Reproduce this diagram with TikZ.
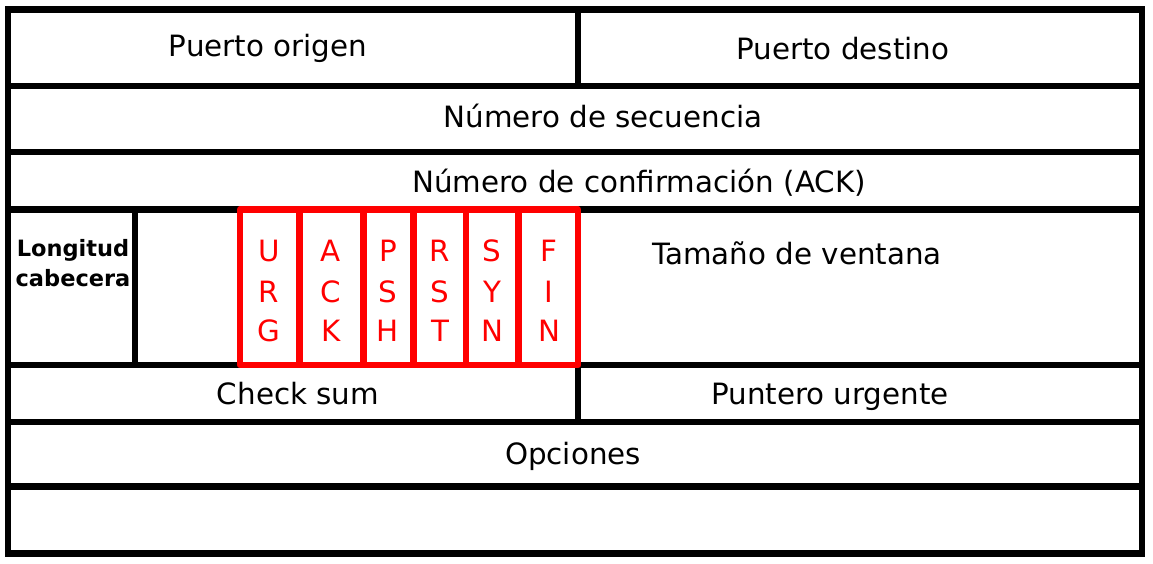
\documentclass[tikz,border=0pt]{standalone}
\usepackage{fontspec}
\setmainfont{DejaVu Sans}
\usetikzlibrary{positioning}
\definecolor{Ink}{HTML}{000000}
\definecolor{FlagRed}{HTML}{FF0000}
\tikzset{
 grid/.style={draw=Ink,line width=3.7pt},
 flagbox/.style={draw=FlagRed,line width=3.7pt,line join=round},
 field/.style={anchor=base,inner sep=0pt,font=\fontsize{16.7}{20}\selectfont},
 flag/.style={field,text=FlagRed},
 hdrlen/.style={align=center,inner sep=0pt,font=\bfseries\fontsize{12.8}{17}\selectfont}
}
\begin{document}
\begin{tikzpicture}[x=0.02cm,y=-0.02cm]
\useasboundingbox (0,0) rectangle (1153,564);
% frame and rows
\draw[grid] (8,9.5) rectangle (1142,553.5);
\foreach \y in {86,152,209.5,365,422,486.5} {\draw[grid] (8,\y)--(1142,\y);}
\draw[grid] (578,9.5)--(578,86);
\draw[grid] (578,365)--(578,422);
\draw[grid] (135,209.5)--(135,365);
% fields
\node[field] (porig) at (268,57) {Puerto origen};
\node[field] (pdest) at (843,60) {Puerto destino};
\node[field] (nseq) at (603,128) {Número de secuencia};
\node[field] (nack) at (639,193) {Número de confirmación (ACK)};
\node[hdrlen] (lcab) at (73,263) {Longitud\\cabecera};
\node[field] (tven) at (797,265) {Tamaño de ventana};
\node[field] (csum) at (298,404) {Check sum};
\node[field] (purg) at (830,404) {Puntero urgente};
\node[field] (opc) at (573,464) {Opciones};
% flags
\draw[flagbox] (240,209.5) rectangle (578,365);
\foreach \x in {299.5,363.5,413.5,466,518.5} {\draw[flagbox] (\x,209.5)--(\x,365);}
\foreach \x/\a/\b/\c/\n in {269/U/R/G/urg,331/A/C/K/ack,388/P/S/H/psh,440/R/S/T/rst,492/S/Y/N/syn,549/F/I/N/fin} {
 \node[flag] (\n a) at (\x,262) {\a};
 \node[flag] (\n b) at (\x,302) {\b};
 \node[flag] (\n c) at (\x,341) {\c};
}
\end{tikzpicture}
\end{document}
